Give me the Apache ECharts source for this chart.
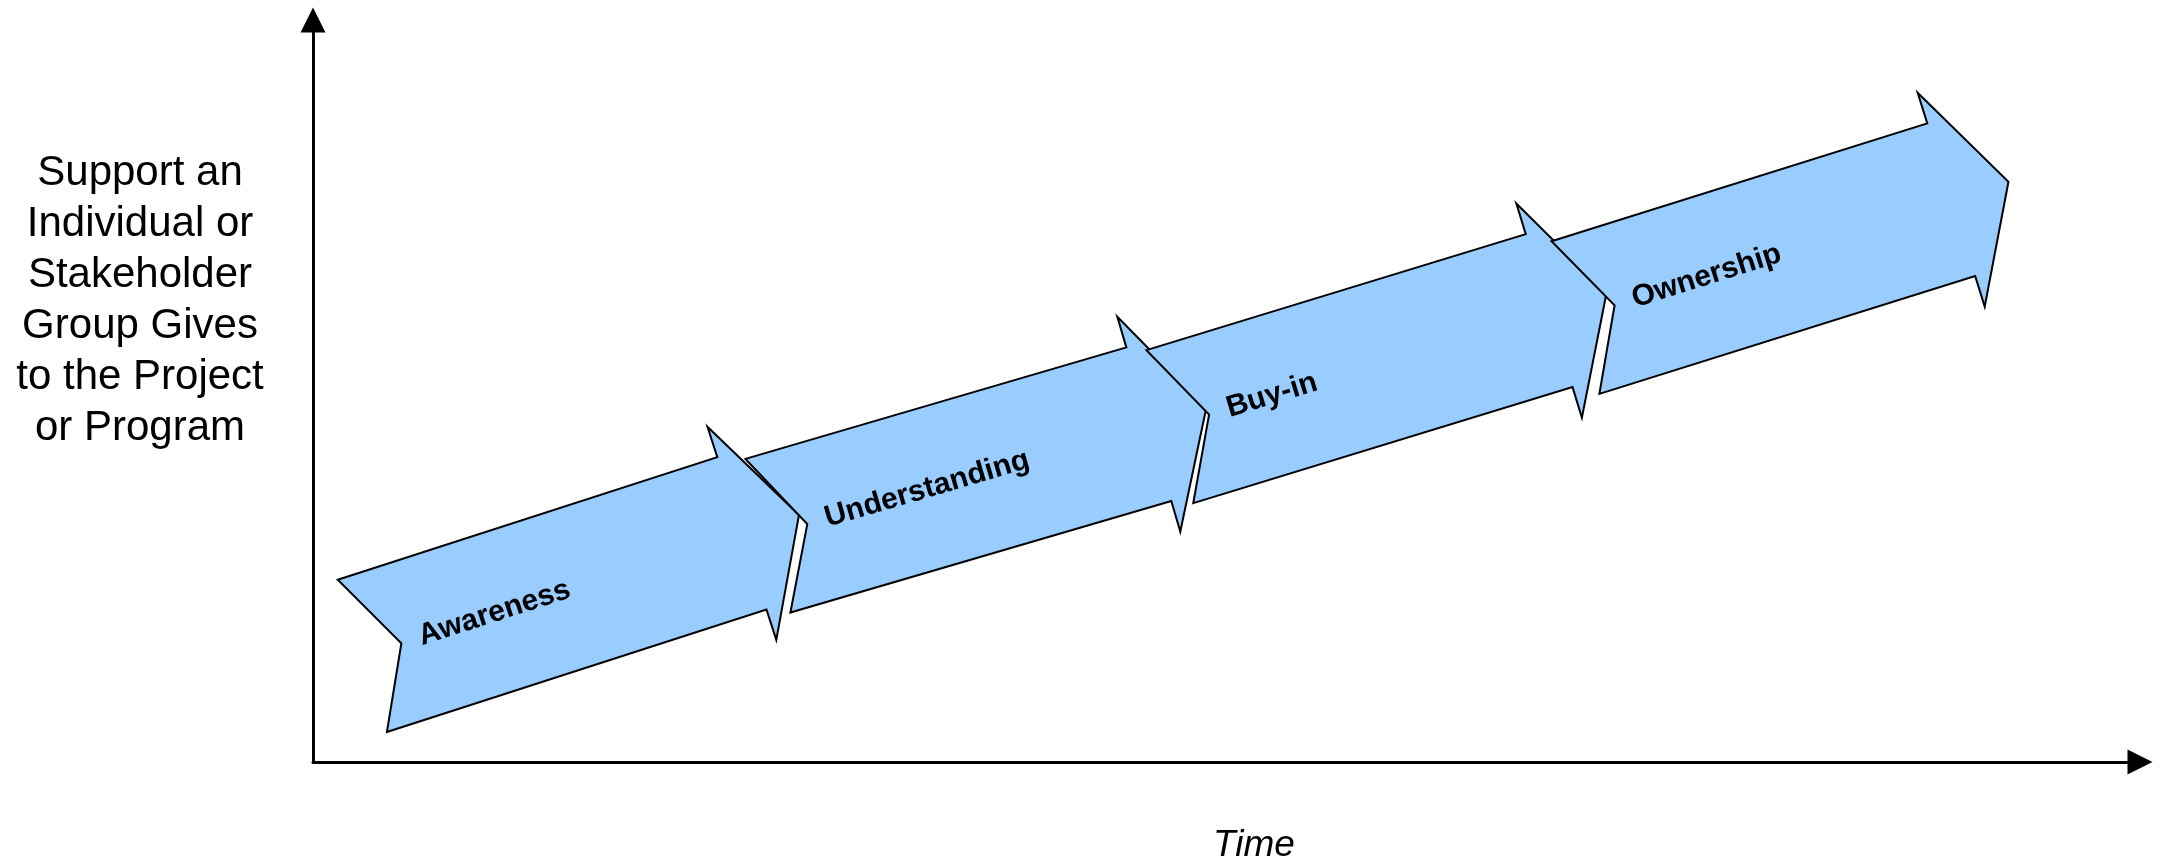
<!DOCTYPE html>
<html>
<head>
<meta charset="utf-8">
<script src="https://cdn.jsdelivr.net/npm/echarts@6/dist/echarts.min.js"></script>
<style>
  html, body { margin: 0; padding: 0; background: #fff; }
  #chart { width: 2160px; height: 862px; }
</style>
</head>
<body>
<div id="chart"></div>
<script>
// Stages of stakeholder commitment, each drawn as a notched arrow
// running from its start (tail) to its end (tip) in time/support units.
const stages = ['Awareness', 'Understanding', 'Buy-in', 'Ownership'];
const startTime = [2.7, 24.9, 46.9, 69.1];
const endTime = [26.6, 48.9, 70.8, 92.8];
const startSupport = [14.3, 30.5, 45.2, 59.9];
const endSupport = [33.3, 47.8, 63.2, 78.2];

const yAxisTitle = 'Support an\nIndividual or\nStakeholder\nGroup Gives\nto the Project\nor Program';
const xAxisTitle = 'Time';

const FONT = '"Liberation Sans", Arial, Helvetica, sans-serif';

// arrow geometry in pixels
const HALF_BODY = 80;
const HALF_HEAD = 112;
const HEAD_LEN = 60;
const NOTCH = 41;
const LABEL_INSET = 60;

const arrowData = stages.map((s, i) => [startTime[i], startSupport[i], endTime[i], endSupport[i]]);

function renderArrow(params, api) {
  const p0 = api.coord([api.value(0), api.value(1)]);
  const p1 = api.coord([api.value(2), api.value(3)]);
  const dx = p1[0] - p0[0];
  const dy = p1[1] - p0[1];
  const len = Math.sqrt(dx * dx + dy * dy);
  const ux = dx / len, uy = dy / len;
  const vx = -uy, vy = ux;
  const body = len - HEAD_LEN;
  const pt = (s, t) => [p0[0] + ux * s + vx * t, p0[1] + uy * s + vy * t];
  const points = [
    pt(0, -HALF_BODY),
    pt(body, -HALF_BODY),
    pt(body, -HALF_HEAD),
    pt(len, 0),
    pt(body, HALF_HEAD),
    pt(body, HALF_BODY),
    pt(0, HALF_BODY),
    pt(NOTCH, 0)
  ];
  const labelPos = pt(LABEL_INSET, 0);
  return {
    type: 'group',
    children: [
      {
        type: 'polygon',
        shape: { points: points },
        style: { fill: '#99CCFF', stroke: '#000', lineWidth: 2, lineJoin: 'miter' }
      },
      {
        type: 'text',
        x: labelPos[0],
        y: labelPos[1],
        rotation: Math.atan2(-dy, dx),
        style: {
          text: stages[params.dataIndex],
          font: 'bold 30px ' + FONT,
          fill: '#000',
          align: 'left',
          verticalAlign: 'middle'
        }
      }
    ]
  };
}

const chart = echarts.init(document.getElementById('chart'), null, { renderer: 'canvas' });

chart.setOption({
  animation: false,
  backgroundColor: '#fff',
  grid: { left: 313, right: 20, top: 20, bottom: 100, outerBoundsMode: 'none', containLabel: false },
  xAxis: {
    type: 'value',
    min: 0,
    max: 100,
    name: xAxisTitle,
    nameLocation: 'middle',
    nameGap: 65,
    nameTextStyle: {
      fontStyle: 'italic',
      fontSize: 37,
      fontFamily: FONT,
      color: '#000',
      padding: [0, 0, 0, 55]
    },
    axisLine: {
      show: true,
      symbol: ['none', 'triangle'],
      symbolSize: [25, 25],
      lineStyle: { color: '#000', width: 3 }
    },
    axisTick: { show: false },
    axisLabel: { show: false },
    splitLine: { show: false }
  },
  yAxis: {
    type: 'value',
    min: 0,
    max: 100,
    axisLine: {
      show: true,
      symbol: ['none', 'triangle'],
      symbolSize: [25, 25],
      lineStyle: { color: '#000', width: 3 }
    },
    axisTick: { show: false },
    axisLabel: { show: false },
    splitLine: { show: false }
  },
  graphic: [
    {
      type: 'text',
      x: 140,
      y: 301,
      silent: true,
      style: {
        text: yAxisTitle,
        font: '42px ' + FONT,
        lineHeight: 51,
        fill: '#000',
        align: 'center',
        verticalAlign: 'middle'
      }
    }
  ],
  series: [
    {
      type: 'custom',
      silent: true,
      renderItem: renderArrow,
      data: arrowData
    }
  ]
});
</script>
</body>
</html>
